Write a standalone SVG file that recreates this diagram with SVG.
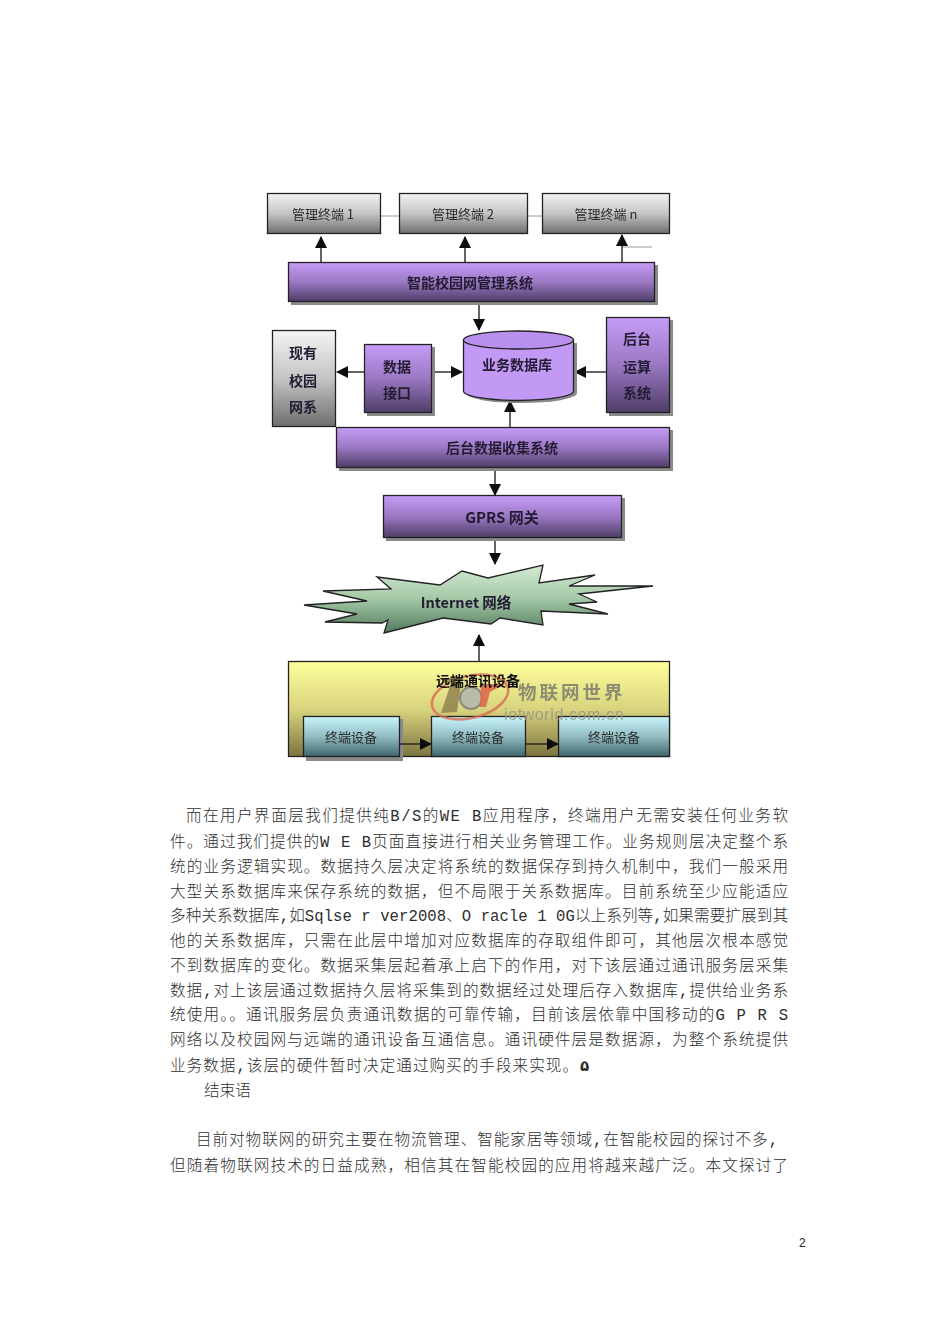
<svg xmlns="http://www.w3.org/2000/svg" width="950" height="1344" viewBox="0 0 950 1344">
<style>
.box{stroke:#222;stroke-width:1.3}
.shadow{fill:#8a8a8a}
.gray{fill:url(#gGray)}
.purple{fill:url(#gPurple)}
.cyan{fill:url(#gCyan)}
.lbl{font-family:"Noto Sans CJK SC","Liberation Sans",sans-serif;font-size:13px;fill:#2a2a2a;text-anchor:middle}
.b{font-weight:700;font-size:14px;fill:#241b33}
.conn{stroke:#222;stroke-width:1.4;fill:none}
.thin{stroke:#999;stroke-width:1;fill:none}
.body{font-family:"Liberation Mono","Noto Sans CJK SC",monospace;font-size:15.6px;fill:#2e2e2e;font-weight:300}
</style>
<defs>
<linearGradient id="gGray" x1="0" y1="0" x2="0" y2="1"><stop offset="0" stop-color="#f4f4f4"/><stop offset=".5" stop-color="#c4c4c4"/><stop offset="1" stop-color="#6e6e6e"/></linearGradient>
<linearGradient id="gPurple" x1="0" y1="0" x2="0" y2="1"><stop offset="0" stop-color="#c59cf8"/><stop offset=".5" stop-color="#9a78c2"/><stop offset="1" stop-color="#4f3d68"/></linearGradient>
<linearGradient id="gCyan" x1="0" y1="0" x2="0" y2="1"><stop offset="0" stop-color="#c8f6fc"/><stop offset=".5" stop-color="#92bcc2"/><stop offset="1" stop-color="#3f666c"/></linearGradient>
<linearGradient id="gYellow" x1="0" y1="0" x2="0" y2="1"><stop offset="0" stop-color="#ffff9c"/><stop offset=".5" stop-color="#d8d47e"/><stop offset="1" stop-color="#7d7440"/></linearGradient>
<linearGradient id="gGreen" x1="0" y1="0" x2="0" y2="1"><stop offset="0" stop-color="#d4ead4"/><stop offset=".5" stop-color="#a4c8a6"/><stop offset="1" stop-color="#527a5c"/></linearGradient>
<marker id="arr" viewBox="0 0 12 12" refX="11" refY="6" markerWidth="12" markerHeight="12" markerUnits="userSpaceOnUse" orient="auto"><path d="M0 0L12 6L0 12Z" fill="#111"/></marker>
<filter id="soft" x="-5%" y="-5%" width="110%" height="110%"><feGaussianBlur stdDeviation="0.5"/></filter>
</defs>
<rect width="950" height="1344" fill="#fff"/>
<g id="diagram" filter="url(#soft)">
<g id="connectors">
<path class="thin" d="M381 216H399M528 216H542M622 247H652"/>
<path class="conn" marker-end="url(#arr)" d="M321 262V237"/>
<path class="conn" marker-end="url(#arr)" d="M465 262V237"/>
<path class="conn" marker-end="url(#arr)" d="M622 262V235"/>
<path class="conn" marker-end="url(#arr)" d="M479 302V330"/>
<path class="conn" marker-end="url(#arr)" d="M364 372H337"/>
<path class="conn" marker-end="url(#arr)" d="M432 372H462"/>
<path class="conn" marker-end="url(#arr)" d="M606 372H575"/>
<path class="conn" marker-end="url(#arr)" d="M510 427V401"/>
<path class="conn" marker-end="url(#arr)" d="M495 468V495"/>
<path class="conn" marker-end="url(#arr)" d="M495 538V564"/>
<path class="conn" marker-end="url(#arr)" d="M479 661V635"/>
</g>
<g id="term1"><rect class="box gray" x="267.500" y="193.500" width="113" height="40"/><text class="lbl" x="323" y="219">管理终端 1</text></g>
<g id="term2"><rect class="box gray" x="399.500" y="193.500" width="128" height="40"/><text class="lbl" x="463" y="219">管理终端 2</text></g>
<g id="termn"><rect class="box gray" x="542.500" y="193.500" width="127" height="40"/><text class="lbl" x="606" y="219">管理终端 n</text></g>
<g id="mgmt"><rect class="shadow" x="291" y="265" width="367" height="40"/><rect class="box purple" x="288.500" y="262.500" width="366" height="39"/><text class="lbl b" x="470" y="288">智能校园网管理系统</text></g>
<g id="existing"><rect class="box gray" x="272.500" y="330.500" width="63" height="96"/><text class="lbl b" x="303" y="358">现有</text><text class="lbl b" x="303" y="386">校园</text><text class="lbl b" x="303" y="412">网系</text></g>
<g id="iface"><rect class="shadow" x="367" y="347" width="68" height="69"/><rect class="box purple" x="364.500" y="344.500" width="67" height="68"/><text class="lbl b" x="397" y="372">数据</text><text class="lbl b" x="397" y="398">接口</text></g>
<g id="db"><path fill="#8a8a8a" d="M466 343V393A55 10 0 0 0 577 393V343Z"/><path class="box" fill="#c299f5" d="M463.500 340V391A55 9.500 0 0 0 573.500 391V340Z"/><ellipse class="box" cx="518.500" cy="340" rx="55" ry="9" fill="#ba90ee"/><text class="lbl b" x="517" y="370">业务数据库</text></g>
<g id="calc"><rect class="shadow" x="609" y="320" width="64" height="96"/><rect class="box purple" x="606.500" y="317.500" width="63" height="95"/><text class="lbl b" x="637" y="344">后台</text><text class="lbl b" x="637" y="372">运算</text><text class="lbl b" x="637" y="398">系统</text></g>
<g id="collect"><rect class="shadow" x="339" y="430" width="334" height="41"/><rect class="box purple" x="336.500" y="427.500" width="333" height="40"/><text class="lbl b" x="502" y="453">后台数据收集系统</text></g>
<g id="gprs"><rect class="shadow" x="386" y="498" width="239" height="43"/><rect class="box purple" x="383.500" y="495.500" width="238" height="42"/><text class="lbl b" x="502" y="523" style="font-size:15px">GPRS 网关</text></g>
<g id="internet"><polygon class="box" fill="url(#gGreen)" points="377,577 440,585 462,571 488,578 543,565 539,583 595,575 569,586 653,586 579,594 597,602 569,604 608,614 541,611 543,625 500,618 491,624 443,618 384,633 388,620 382,623 325,622 357,614 304,605 367,601 323,591 391,589"/><text class="lbl b" x="466" y="608" style="font-size:14.5px">Internet 网络</text></g>
<g id="remote"><rect class="box" fill="url(#gYellow)" x="288.500" y="661.500" width="381" height="95"/></g>
<g id="dev1"><rect class="shadow" x="306" y="719" width="97" height="42"/><rect class="box cyan" x="303.500" y="716.500" width="96" height="40"/><text class="lbl" x="351" y="742">终端设备</text></g>
<g id="dev2"><rect class="box cyan" x="431.500" y="716.500" width="94" height="40"/><text class="lbl" x="478" y="742">终端设备</text></g>
<g id="dev3"><rect class="box cyan" x="558.500" y="716.500" width="111" height="40"/><text class="lbl" x="614" y="742">终端设备</text></g>
<g id="devconn"><path class="conn" marker-end="url(#arr)" d="M400 744H431"/><path class="conn" marker-end="url(#arr)" d="M526 744H558"/></g>
<g id="watermark">
<ellipse cx="470" cy="697" rx="39" ry="21" fill="none" stroke="#d9694f" stroke-width="2.5" transform="rotate(-14 470 697)" opacity=".8"/>
<path d="M441 713L451 683H443L445 678H462L457 712Z" fill="#8f8250" opacity=".85"/>
<circle cx="471" cy="698" r="11" fill="#b9bca8" stroke="#8a8a7a" stroke-width="2"/>
<path d="M481 684H505L490 692L486 707L480 707Z" fill="#dd6a4a" opacity=".9"/>
<text x="518" y="699" font-family="Noto Sans CJK SC,sans-serif" font-size="18.500" font-weight="700" fill="#8c8c72" letter-spacing="3">物联网世界</text>
<text x="504" y="720" font-family="Liberation Sans,sans-serif" font-size="16" fill="#9a9a88" letter-spacing=".6" opacity=".9">iotworld.com.cn</text>
</g>
<text class="lbl b" x="478" y="686" style="fill:#111">远端通讯设备</text>
</g>
<g id="body" class="body">
<text x="186" y="821" textLength="602">而在用户界面层我们提供纯B/S的WE B应用程序，终端用户无需安装任何业务软</text>
<text x="170" y="847" textLength="618">件。通过我们提供的W E B页面直接进行相关业务管理工作。业务规则层决定整个系</text>
<text x="170" y="872" textLength="618">统的业务逻辑实现。数据持久层决定将系统的数据保存到持久机制中，我们一般采用</text>
<text x="170" y="897" textLength="618">大型关系数据库来保存系统的数据，但不局限于关系数据库。目前系统至少应能适应</text>
<text x="170" y="921" textLength="618">多种关系数据库,如Sqlse r ver2008、O racle 1 0G以上系列等,如果需要扩展到其</text>
<text x="170" y="946" textLength="618">他的关系数据库，只需在此层中增加对应数据库的存取组件即可，其他层次根本感觉</text>
<text x="170" y="971" textLength="618">不到数据库的变化。数据采集层起着承上启下的作用，对下该层通过通讯服务层采集</text>
<text x="170" y="996" textLength="618">数据,对上该层通过数据持久层将采集到的数据经过处理后存入数据库,提供给业务系</text>
<text x="170" y="1020" textLength="618">统使用。。通讯服务层负责通讯数据的可靠传输，目前该层依靠中国移动的G P R S</text>
<text x="170" y="1045" textLength="618">网络以及校园网与远端的通讯设备互通信息。通讯硬件层是数据源，为整个系统提供</text>
<text x="170" y="1071" textLength="408">业务数据,该层的硬件暂时决定通过购买的手段来实现。</text>
<text x="580" y="1071" font-family="DejaVu Sans,sans-serif" font-weight="700" font-size="15">۵</text>
<text x="204" y="1096">结束语</text>
<text x="196" y="1145" textLength="582">目前对物联网的研究主要在物流管理、智能家居等领域,在智能校园的探讨不多,</text>
<text x="170" y="1171" textLength="618">但随着物联网技术的日益成熟，相信其在智能校园的应用将越来越广泛。本文探讨了</text>
</g>
<text id="page" x="799" y="1247" font-family="Liberation Sans,sans-serif" font-size="12" fill="#222">2</text>
</svg>
